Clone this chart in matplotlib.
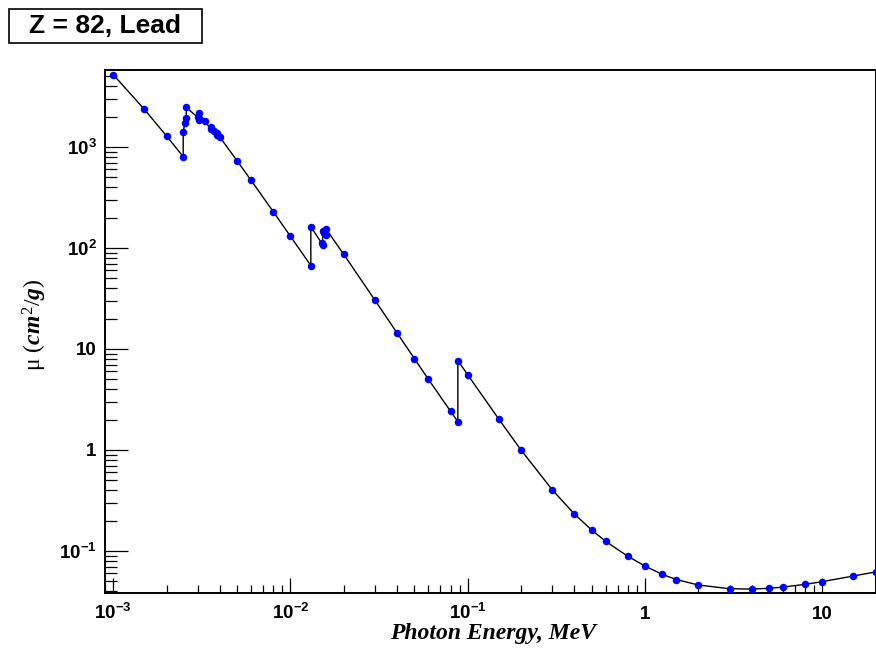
import matplotlib
matplotlib.use("Agg")
import matplotlib.pyplot as plt
from matplotlib.patches import Rectangle
from matplotlib.ticker import LogLocator, NullFormatter, FixedLocator
import numpy as np

# Mass attenuation coefficient of lead (photon energy in MeV, mu in cm^2/g)
energy = [1.0e-3, 1.5e-3, 2.0e-3, 2.484e-3, 2.484e-3, 2.53429e-3, 2.5856e-3, 2.5856e-3,
          3.0e-3, 3.0664e-3, 3.0664e-3, 3.3013e-3, 3.5542e-3, 3.5542e-3, 3.70194e-3,
          3.8556e-3, 3.8556e-3, 4.0e-3, 5.0e-3, 6.0e-3, 8.0e-3, 1.0e-2, 1.30352e-2,
          1.30352e-2, 1.5e-2, 1.52e-2, 1.52e-2, 1.55269e-2, 1.58608e-2, 1.58608e-2,
          2.0e-2, 3.0e-2, 4.0e-2, 5.0e-2, 6.0e-2, 8.0e-2, 8.80045e-2, 8.80045e-2,
          0.1, 0.15, 0.2, 0.3, 0.4, 0.5, 0.6, 0.8, 1.0, 1.25, 1.5, 2.0, 3.0, 4.0,
          5.0, 6.0, 8.0, 10.0, 15.0, 20.0]
mu = [5210, 2356, 1285, 800.6, 1397, 1726, 1944, 2458,
      1965, 1857, 2146, 1796, 1496, 1585, 1442,
      1311, 1368, 1251, 730.4, 467.2, 228.7, 130.6, 67.01,
      162.1, 111.6, 107.8, 148.5, 141.6, 134.4, 154.8,
      86.36, 30.32, 14.36, 8.041, 5.021, 2.419, 1.910, 7.683,
      5.549, 2.014, 0.9985, 0.4031, 0.2323, 0.1614, 0.1248, 0.0887, 0.07102, 0.05876,
      0.05222, 0.04606, 0.04234, 0.04197, 0.04272, 0.04391, 0.04675, 0.04972,
      0.05658, 0.06206]

x_ticks = [1e-3, 1e-2, 1e-1, 1, 10]
x_labels = [r"$\mathbf{10^{-3}}$", r"$\mathbf{10^{-2}}$", r"$\mathbf{10^{-1}}$", "1", "10"]
y_ticks = [1e-1, 1, 10, 1e2, 1e3]
y_labels = [r"$\mathbf{10^{-1}}$", "1", "10", r"$\mathbf{10^{2}}$", r"$\mathbf{10^{3}}$"]

plt.rcParams["mathtext.fontset"] = "custom"
plt.rcParams["mathtext.rm"] = "Liberation Serif"
plt.rcParams["mathtext.it"] = "Liberation Serif:italic:bold"
plt.rcParams["mathtext.bf"] = "Liberation Sans:bold"
plt.rcParams["font.family"] = "Liberation Sans"

fig = plt.figure(figsize=(8.76, 6.49), dpi=100)
ax = fig.add_axes([0.1199, 0.0863, 0.8801, 0.8051])

ax.plot(energy, mu, color="black", lw=1.0, marker="o", ms=4.4,
        mfc="#0000ff", mec="#0000ff", zorder=3)

ax.set_xscale("log")
ax.set_yscale("log")
ax.set_xlim(9.0e-4, 20.1)
ax.set_ylim(0.0384, 5713)

ax.xaxis.set_major_locator(FixedLocator(x_ticks))
ax.yaxis.set_major_locator(FixedLocator(y_ticks))
ax.set_xticklabels(x_labels)
ax.set_yticklabels(y_labels)
ax.xaxis.set_minor_locator(LogLocator(base=10, subs=np.arange(2, 10), numticks=20))
ax.yaxis.set_minor_locator(LogLocator(base=10, subs=np.arange(2, 10), numticks=20))
ax.xaxis.set_minor_formatter(NullFormatter())
ax.yaxis.set_minor_formatter(NullFormatter())

ax.tick_params(axis="x", which="major", direction="in", length=10.8, width=0.9,
               labelsize=13.5, pad=18.5, top=False)
ax.tick_params(axis="x", which="minor", direction="in", length=5.8, width=0.9, top=False)
ax.tick_params(axis="y", which="major", direction="in", length=16.5, width=0.9,
               labelsize=13.5, pad=6, right=False)
ax.tick_params(axis="y", which="minor", direction="in", length=8.6, width=0.9, right=False)
for lab in ax.get_xticklabels():
    lab.set_fontweight("bold")
    lab.set_va("baseline")
for lab in ax.get_yticklabels():
    lab.set_fontweight("bold")

for sp in ax.spines.values():
    sp.set_linewidth(1.4)

# axis titles
fig.text(493 / 876, 1 - 634 / 649, "Photon Energy, MeV", family="Liberation Serif",
         style="italic", weight="bold", fontsize=17, ha="center", va="center")
fig.text(35 / 876, 1 - 325 / 649, r"$\mathrm{\mu}\ \mathit{(cm^{2}/g)}$",
         fontsize=17, rotation=90, ha="center", va="center")

# element box in the top-left corner
fig.patches.append(Rectangle((9 / 876, 1 - 43 / 649), 193 / 876, 34 / 649,
                             transform=fig.transFigure, fill=True, fc="white",
                             ec="black", lw=1.2))
fig.text(105 / 876, 1 - 26 / 649, "Z = 82, Lead", fontsize=19, weight="bold",
         ha="center", va="center")

fig.savefig("out.png", dpi=100)
